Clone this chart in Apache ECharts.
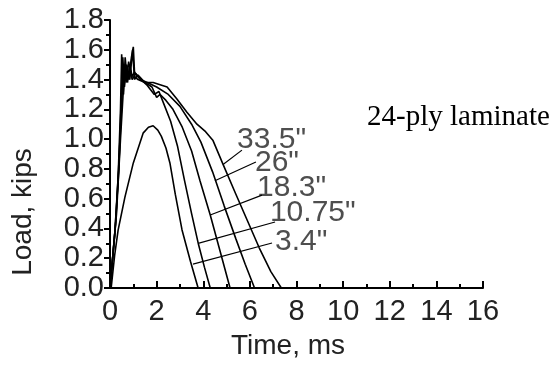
<!DOCTYPE html>
<html>
<head>
<meta charset="utf-8">
<script src="https://cdn.jsdelivr.net/npm/echarts@6/dist/echarts.min.js"></script>
<style>
html,body{margin:0;padding:0;background:#fff;}
#chart{width:556px;height:377px;}
</style>
</head>
<body>
<div id="chart"></div>
<script>
// Load (kips) vs time (ms) for several distances, 24-ply laminate
const xTicks = [0, 2, 4, 6, 8, 10, 12, 14, 16];
const yTicks = [0.0, 0.2, 0.4, 0.6, 0.8, 1.0, 1.2, 1.4, 1.6, 1.8];

const curve3_4 = [[0.05,0],[0.2,0.22],[0.35,0.39],[0.64,0.61],[1.0,0.84],[1.42,1.04],[1.65,1.08],[1.85,1.09],[2.05,1.06],[2.2,1.02],[2.4,0.94],[2.57,0.84],[2.8,0.63],[3.09,0.39],[3.45,0.18],[3.78,0]];
const curve10_75 = [[0,0],[0.2,0.35],[0.35,0.75],[0.45,1.2],[0.5,1.57],[0.58,1.3],[0.65,1.55],[0.75,1.38],[0.85,1.5],[0.95,1.42],[1.05,1.45],[1.2,1.42],[1.6,1.36],[1.9,1.3],[2.1,1.32],[2.3,1.24],[2.6,1.12],[2.9,0.95],[3.2,0.72],[3.5,0.5],[3.8,0.29],[4.05,0.14],[4.3,0]];
const curve18_3 = [[0,0],[0.22,0.4],[0.38,0.8],[0.48,1.25],[0.55,1.55],[0.62,1.35],[0.72,1.5],[0.85,1.4],[0.97,1.6],[1.05,1.4],[1.2,1.43],[1.5,1.38],[1.8,1.35],[2.0,1.28],[2.15,1.3],[2.4,1.26],[2.7,1.2],[3.1,1.08],[3.5,0.92],[3.86,0.72],[4.3,0.49],[4.7,0.26],[5.15,0]];
const curve26 = [[0,0],[0.25,0.45],[0.4,0.9],[0.52,1.3],[0.6,1.5],[0.7,1.38],[0.8,1.52],[0.95,1.4],[1.1,1.44],[1.3,1.4],[1.6,1.38],[2.0,1.35],[2.5,1.3],[3.0,1.22],[3.5,1.1],[3.9,0.98],[4.4,0.78],[4.9,0.55],[5.4,0.33],[5.8,0.16],[6.2,0]];
const curve33_5 = [[0,0],[0.28,0.5],[0.45,1.0],[0.58,1.35],[0.68,1.48],[0.8,1.4],[0.92,1.55],[1.0,1.62],[1.06,1.42],[1.2,1.4],[1.5,1.38],[1.85,1.38],[2.45,1.35],[2.87,1.27],[3.3,1.18],[3.73,1.1],[4.1,1.05],[4.42,0.99],[4.85,0.83],[5.4,0.63],[5.9,0.45],[6.4,0.27],[6.9,0.11],[7.35,0]];

const labelNames = ['33.5"', '26"', '18.3"', '10.75"', '3.4"'];
const labelPos = [[5.45,0.993],[6.22,0.839],[6.31,0.671],[6.86,0.503],[7.08,0.309]];
const leader33_5 = [[5.66,0.926],[4.85,0.83]];
const leader26 = [[6.26,0.846],[4.5,0.72]];
const leader18_3 = [[6.52,0.624],[4.3,0.49]];
const leader10_75 = [[7.08,0.443],[3.78,0.3]];
const leader3_4 = [[6.95,0.302],[3.56,0.16]];

const curves = [curve3_4, curve10_75, curve18_3, curve26, curve33_5];
const leaders = [leader33_5, leader26, leader18_3, leader10_75, leader3_4];

const FONT = '"Liberation Sans", Arial, sans-serif';
const series = [];
curves.forEach(function (c) {
  series.push({type:'line', data:c, symbol:'none', smooth:false,
    lineStyle:{color:'#000', width:1.6}, silent:true});
});
leaders.forEach(function (c) {
  series.push({type:'line', data:c, symbol:'none', smooth:false,
    lineStyle:{color:'#000', width:1.2}, silent:true});
});
series.push({
  type:'scatter', symbolSize:0, silent:true,
  data: labelPos.map(function (p, i) { return [p[0], p[1], labelNames[i]]; }),
  label:{show:true, position:'right', distance:0, color:'#222',
    fontFamily:FONT, fontSize:30,
    formatter:function (p) { return p.data[2]; }}
});

const chart = echarts.init(document.getElementById('chart'), null, {renderer:'canvas'});
chart.setOption({
  animation:false,
  backgroundColor:'#fff',
  grid:{left:110, right:73, top:20, bottom:89},
  xAxis:{
    type:'value', min:xTicks[0], max:xTicks[xTicks.length-1], interval:2,
    axisLine:{lineStyle:{color:'#000', width:2}},
    axisTick:{inside:true, length:7, lineStyle:{color:'#000', width:2}},
    minorTick:{show:true, splitNumber:2, length:4, lineStyle:{color:'#000', width:2}},
    splitLine:{show:false},
    axisLabel:{fontFamily:FONT, fontSize:29, color:'#222', margin:9}
  },
  yAxis:{
    type:'value', min:yTicks[0], max:yTicks[yTicks.length-1], interval:0.2,
    axisLine:{lineStyle:{color:'#000', width:2}},
    axisTick:{inside:false, length:6, lineStyle:{color:'#000', width:2}},
    minorTick:{show:true, splitNumber:2, length:4, lineStyle:{color:'#000', width:2}},
    splitLine:{show:false},
    axisLabel:{fontFamily:FONT, fontSize:29, color:'#222', margin:6,
      formatter:function (v) { return v.toFixed(1); }}
  },
  graphic:[{
    type:'text', left:367, top:103,
    style:{text:'24-ply laminate', font:'29px "Liberation Serif", "Times New Roman", serif', fill:'#000'}
  },{
    type:'text', x:23, y:212, rotation:Math.PI/2,
    style:{text:'Load, kips', font:'28px "Liberation Sans", Arial, sans-serif', fill:'#222',
      align:'center', verticalAlign:'middle', textAlign:'center', textVerticalAlign:'middle'}
  },{
    type:'text', x:288, y:346,
    style:{text:'Time, ms', font:'28px "Liberation Sans", Arial, sans-serif', fill:'#222',
      align:'center', verticalAlign:'middle', textAlign:'center', textVerticalAlign:'middle'}
  }],
  series:series
});
</script>
</body>
</html>
